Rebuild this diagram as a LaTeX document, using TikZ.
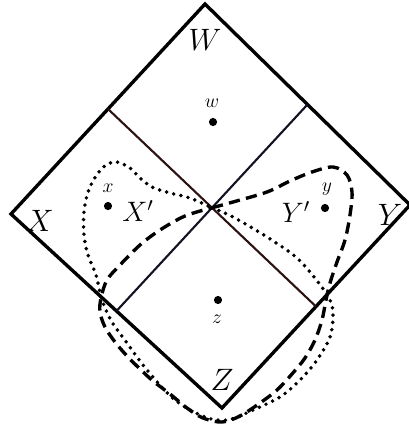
\RequirePackage{fix-cm}
\documentclass[tikz,border=0pt]{standalone}
\usepackage{xcolor}
\usetikzlibrary{calc}
\definecolor{darkred}{RGB}{45,18,18}
\definecolor{darkblue}{RGB}{18,18,35}

\begin{document}
\begin{tikzpicture}[
  x=0.025cm, y=-0.025cm,
  edge/.style={line width=2.4pt, line join=miter},
  midline/.style={line width=1.5pt},
  pt/.style={circle, fill, inner sep=0pt, minimum size=5.8pt},
  big/.style={inner sep=0pt, font=\fontsize{22}{26}\selectfont},
  prim/.style={inner sep=0pt, font=\fontsize{20}{24}\selectfont},
  small/.style={inner sep=0pt, font=\fontsize{14}{16}\selectfont},
  dotline/.style={line width=2.8pt, line cap=round, dash pattern=on 0pt off 5.2pt},
  dashline/.style={line width=2.4pt, dash pattern=on 8pt off 4.5pt}
]
  \useasboundingbox (0,0) rectangle (409,429);
  \coordinate (cW) at (205,4);
  \coordinate (cY) at (410,205);
  \coordinate (cZ) at (222,408);
  \coordinate (cX) at (11,214);
  \coordinate (mWX) at ($(cW)!0.5!(cX)$);
  \coordinate (mWY) at ($(cW)!0.5!(cY)$);
  \coordinate (mYZ) at ($(cY)!0.5!(cZ)$);
  \coordinate (mXZ) at ($(cX)!0.5!(cZ)$);
  \coordinate (o) at (intersection of mWX--mYZ and mWY--mXZ);
  \draw[edge] (cW) -- (cY) -- (cZ) -- (cX) -- cycle;
  \draw[midline, darkred] (mWX) -- (mYZ);
  \draw[midline, darkblue] (mWY) -- (mXZ);
  \node[big] (lW) at (205,40) {$W$};
  \node[big] (lX) at (40,221) {$X$};
  \node[big] (lY) at (390,215) {$Y$};
  \node[big] (lZ) at (222,380) {$Z$};
  \node[prim] (lXp) at (138,211) {$X'$};
  \node[prim] (lYp) at (296,212) {$Y'$};
  \node[pt] (w) at (213,122) {};
  \node[pt] (x) at (108,206) {};
  \node[pt] (y) at (325,208) {};
  \node[pt] (z) at (218,300) {};
  \node[small] (lw) at (212,103) {$w$};
  \node[small] (lx) at (108,188) {$x$};
  \node[small] (ly) at (327,189) {$y$};
  \node[small] (lz) at (217,319) {$z$};
  \draw[dotline] plot[smooth, tension=0.55] coordinates {(o) (233,217) (267,237) (297,258) (318,282) (330,300) (333,315) (330,337) (317,360) (300,380) (280,397) (253,410) (228,420) (205,417) (175,400) (147,370) (127,343) (112,322) (102,300) (96,275) (88,255) (84,235) (84,212) (88,192) (96,176) (106,165) (117,162) (130,168) (140,178) (152,187) (170,193) (190,198) (o)};
  \draw[dashline] plot[smooth, tension=0.55] coordinates {(o) (233,202) (267,192) (290,181) (312,172) (333,167) (347,175) (352,192) (350,215) (345,240) (337,262) (330,283) (326,300) (322,320) (315,340) (305,358) (292,374) (277,390) (260,403) (240,416) (222,422) (203,418) (187,408) (170,394) (153,381) (140,369) (127,356) (115,342) (105,327) (100,312) (101,298) (107,280) (120,265) (140,245) (160,230) (185,216) (o)};
\end{tikzpicture}
\end{document}
